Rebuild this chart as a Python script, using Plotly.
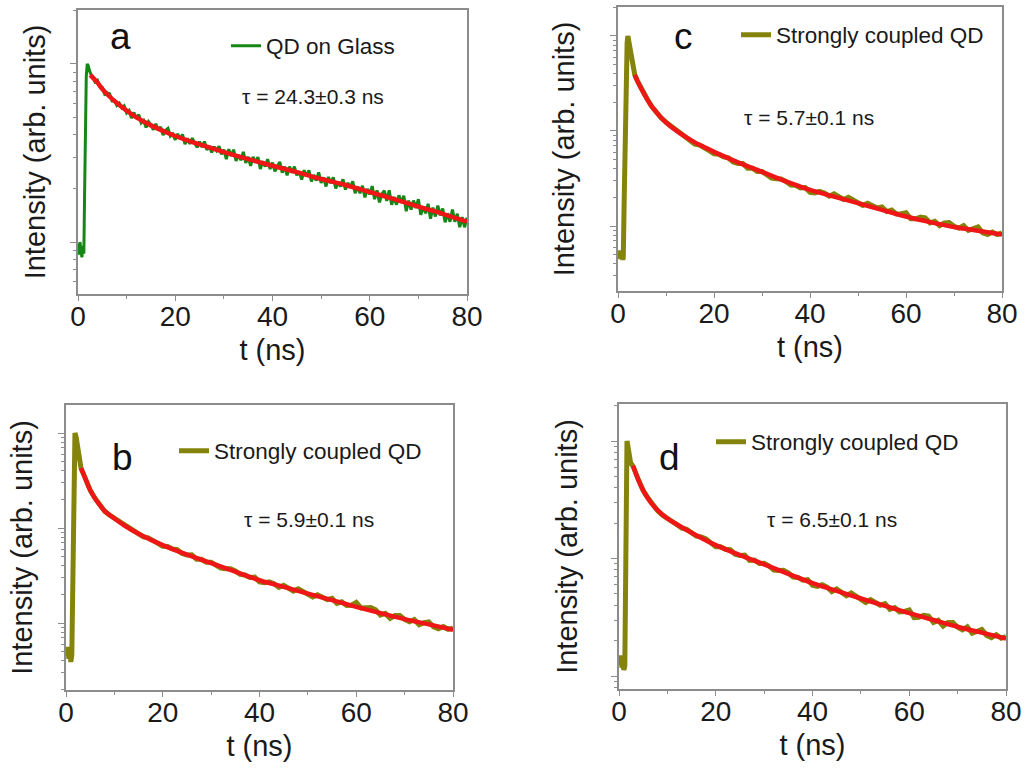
import plotly.graph_objects as go

# ---------------- data ----------------
# panel a : QD on glass  (rise, then decay sampled every 0.5 ns)
t_a = [0, 0.2, 0.4, 0.6, 0.8, 1.0, 1.2, 1.35, 1.5, 1.7, 1.9, 2.1, 2.3, 2.6,
       3.0, 3.5, 4.0, 4.5, 5.0, 5.5, 6.0, 6.5, 7.0, 7.5, 8.0, 8.5, 9.0, 9.5,
       10.0, 10.5, 11.0, 11.5, 12.0, 12.5, 13.0, 13.5, 14.0, 14.5, 15.0, 15.5, 16.0, 16.5,
       17.0, 17.5, 18.0, 18.5, 19.0, 19.5, 20.0, 20.5, 21.0, 21.5, 22.0, 22.5, 23.0, 23.5,
       24.0, 24.5, 25.0, 25.5, 26.0, 26.5, 27.0, 27.5, 28.0, 28.5, 29.0, 29.5, 30.0, 30.5,
       31.0, 31.5, 32.0, 32.5, 33.0, 33.5, 34.0, 34.5, 35.0, 35.5, 36.0, 36.5, 37.0, 37.5,
       38.0, 38.5, 39.0, 39.5, 40.0, 40.5, 41.0, 41.5, 42.0, 42.5, 43.0, 43.5, 44.0, 44.5,
       45.0, 45.5, 46.0, 46.5, 47.0, 47.5, 48.0, 48.5, 49.0, 49.5, 50.0, 50.5, 51.0, 51.5,
       52.0, 52.5, 53.0, 53.5, 54.0, 54.5, 55.0, 55.5, 56.0, 56.5, 57.0, 57.5, 58.0, 58.5,
       59.0, 59.5, 60.0, 60.5, 61.0, 61.5, 62.0, 62.5, 63.0, 63.5, 64.0, 64.5, 65.0, 65.5,
       66.0, 66.5, 67.0, 67.5, 68.0, 68.5, 69.0, 69.5, 70.0, 70.5, 71.0, 71.5, 72.0, 72.5,
       73.0, 73.5, 74.0, 74.5, 75.0, 75.5, 76.0, 76.5, 77.0, 77.5, 78.0, 78.5, 79.0, 79.5, 80.0]
i_a = [0.098, 0.085, 0.100, 0.088, 0.082, 0.095, 0.086, 0.18, 0.45, 0.85, 1.0, 0.98, 0.93, 0.88,
       0.851, 0.793, 0.810, 0.748, 0.738, 0.675, 0.687, 0.681, 0.620, 0.622, 0.584, 0.602, 0.567, 0.582,
       0.531, 0.548, 0.496, 0.534, 0.495, 0.519, 0.467, 0.482, 0.440, 0.474, 0.455, 0.427, 0.461, 0.424,
       0.443, 0.399, 0.423, 0.435, 0.393, 0.404, 0.375, 0.405, 0.378, 0.402, 0.354, 0.382, 0.356, 0.383,
       0.359, 0.340, 0.366, 0.341, 0.367, 0.329, 0.346, 0.318, 0.343, 0.326, 0.345, 0.311, 0.330, 0.292,
       0.332, 0.304, 0.330, 0.285, 0.308, 0.288, 0.321, 0.278, 0.301, 0.268, 0.301, 0.279, 0.300, 0.257,
       0.284, 0.265, 0.292, 0.257, 0.279, 0.249, 0.266, 0.282, 0.245, 0.265, 0.237, 0.265, 0.245, 0.265,
       0.237, 0.249, 0.224, 0.253, 0.234, 0.253, 0.219, 0.238, 0.221, 0.246, 0.215, 0.231, 0.205, 0.232,
       0.214, 0.231, 0.200, 0.217, 0.205, 0.225, 0.197, 0.215, 0.202, 0.219, 0.188, 0.205, 0.188, 0.207,
       0.178, 0.199, 0.185, 0.206, 0.174, 0.195, 0.167, 0.186, 0.194, 0.170, 0.195, 0.162, 0.179, 0.162,
       0.183, 0.166, 0.182, 0.149, 0.171, 0.152, 0.171, 0.155, 0.174, 0.142, 0.158, 0.145, 0.164, 0.135,
       0.156, 0.139, 0.160, 0.141, 0.154, 0.129, 0.145, 0.130, 0.152, 0.130, 0.144, 0.121, 0.138, 0.121, 0.137]
tf_a = [2.5, 3, 4, 5, 6, 8, 10, 12, 15, 20, 25, 30, 35, 40, 45, 50, 55, 60, 65, 70, 75, 80]
f_a = [0.867, 0.841, 0.785, 0.724, 0.676, 0.603, 0.547, 0.501, 0.452, 0.394, 0.353, 0.320,
       0.292, 0.268, 0.247, 0.226, 0.209, 0.191, 0.174, 0.158, 0.144, 0.130]

# panel b : strongly coupled QD
t_b = [0, 0.2, 0.4, 0.6, 0.8, 1.0, 1.2, 1.35, 1.5, 1.65, 1.85, 2.1, 2.5, 2.8, 3.1,
       4, 5, 6, 7, 8, 9, 10, 11, 12, 13, 14, 15, 16, 17, 18, 19, 20,
       21, 22, 23, 24, 25, 26, 27, 28, 29, 30, 31, 32, 33, 34, 35, 36, 37, 38, 39, 40,
       41, 42, 43, 44, 45, 46, 47, 48, 49, 50, 51, 52, 53, 54, 55, 56, 57, 58, 59, 60,
       61, 62, 63, 64, 65, 66, 67, 68, 69, 70, 71, 72, 73, 74, 75, 76, 77, 78, 79, 80]
i_b = [0.0052, 0.0045, 0.0056, 0.0042, 0.0049, 0.0039, 0.0046, 0.02, 0.25, 0.75, 1.0, 0.9, 0.63, 0.5, 0.427,
       0.333, 0.250, 0.206, 0.174, 0.150, 0.137, 0.127, 0.118, 0.107, 0.0986, 0.0944, 0.0873, 0.0806, 0.0787, 0.0746, 0.0689, 0.0642,
       0.0638, 0.0603, 0.0591, 0.0538, 0.0521, 0.0522, 0.0468, 0.0469, 0.0437, 0.0437, 0.0412, 0.0379, 0.0373, 0.0372, 0.0353, 0.0325, 0.0320, 0.0302, 0.0304, 0.0271,
       0.0265, 0.0272, 0.0260, 0.0237, 0.0250, 0.0231, 0.0217, 0.0229, 0.0215, 0.0199, 0.0188, 0.0198, 0.0187, 0.0176, 0.0182, 0.0161, 0.0167, 0.0153, 0.0154, 0.0165,
       0.0144, 0.0147, 0.0146, 0.0138, 0.0121, 0.0126, 0.0112, 0.0120, 0.0120, 0.0109, 0.0103, 0.0109, 0.0096, 0.0101, 0.0103, 0.0091, 0.0087, 0.0092, 0.0086, 0.0088]
tf_b = [3.1, 4, 5, 6, 7, 8, 10, 12, 15, 20, 25, 30, 35, 40, 45, 50, 55, 60, 65, 70, 75, 80]
f_b = [0.427, 0.331, 0.251, 0.204, 0.174, 0.151, 0.126, 0.107, 0.0871, 0.0661, 0.0525, 0.0427,
       0.0347, 0.0282, 0.0240, 0.0204, 0.0174, 0.0148, 0.0127, 0.0110, 0.00968, 0.00851]

# panel c : strongly coupled QD
t_c = [0, 0.2, 0.4, 0.6, 0.8, 1.0, 1.1, 1.3, 1.5, 1.7, 1.9, 2.05, 2.3, 2.6, 3.0, 3.5,
       4, 5, 6, 7, 8, 9, 10, 11, 12, 13, 14, 15, 16, 17, 18, 19, 20,
       21, 22, 23, 24, 25, 26, 27, 28, 29, 30, 31, 32, 33, 34, 35, 36, 37, 38, 39, 40,
       41, 42, 43, 44, 45, 46, 47, 48, 49, 50, 51, 52, 53, 54, 55, 56, 57, 58, 59, 60,
       61, 62, 63, 64, 65, 66, 67, 68, 69, 70, 71, 72, 73, 74, 75, 76, 77, 78, 79, 80]
i_c = [0.0052, 0.0046, 0.0055, 0.0045, 0.0051, 0.0044, 0.0047, 0.02, 0.12, 0.5, 0.85, 1.0, 0.85, 0.62, 0.47, 0.389,
       0.341, 0.268, 0.221, 0.182, 0.157, 0.137, 0.124, 0.114, 0.102, 0.0931, 0.0881, 0.0798, 0.0729, 0.0712, 0.0675, 0.0620, 0.0574,
       0.0568, 0.0534, 0.0522, 0.0472, 0.0455, 0.0454, 0.0405, 0.0405, 0.0374, 0.0374, 0.0350, 0.0320, 0.0314, 0.0313, 0.0294, 0.0270, 0.0268, 0.0252, 0.0254, 0.0226,
       0.0223, 0.0232, 0.0223, 0.0206, 0.0218, 0.0203, 0.0190, 0.0200, 0.0188, 0.0175, 0.0165, 0.0174, 0.0164, 0.0155, 0.0159, 0.0142, 0.0147, 0.0134, 0.0135, 0.0138,
       0.0119, 0.0119, 0.0124, 0.0122, 0.0108, 0.0112, 0.0101, 0.0108, 0.0109, 0.00994, 0.0095, 0.0101, 0.00899, 0.00947, 0.00976, 0.00847, 0.00814, 0.00865, 0.00812, 0.00845]
tf_c = [3.5, 4, 5, 6, 7, 8, 9, 10, 12, 14, 16, 18, 20, 25, 30, 35, 40, 45, 50, 55, 60, 65, 70, 75, 80]
f_c = [0.389, 0.339, 0.269, 0.219, 0.182, 0.158, 0.138, 0.123, 0.102, 0.0871, 0.0759, 0.0676, 0.0603,
       0.0468, 0.0372, 0.0295, 0.0240, 0.0204, 0.0174, 0.0148, 0.0126, 0.0110, 0.00977, 0.00891, 0.00813]

# panel d : strongly coupled QD
t_d = [0, 0.2, 0.4, 0.6, 0.8, 1.0, 1.2, 1.35, 1.5, 1.65, 1.85, 2.1, 2.4, 2.7, 2.9,
       3, 4, 5, 6, 7, 8, 9, 10, 11, 12, 13, 14, 15, 16, 17, 18, 19, 20,
       21, 22, 23, 24, 25, 26, 27, 28, 29, 30, 31, 32, 33, 34, 35, 36, 37, 38, 39, 40,
       41, 42, 43, 44, 45, 46, 47, 48, 49, 50, 51, 52, 53, 54, 55, 56, 57, 58, 59, 60,
       61, 62, 63, 64, 65, 66, 67, 68, 69, 70, 71, 72, 73, 74, 75, 76, 77, 78, 79, 80]
i_d = [0.0140, 0.0125, 0.0150, 0.0118, 0.0128, 0.0113, 0.0122, 0.05, 0.45, 1.0, 0.9, 0.72, 0.65, 0.63, 0.617,
       0.596, 0.470, 0.379, 0.327, 0.286, 0.255, 0.234, 0.221, 0.211, 0.194, 0.181, 0.177, 0.166, 0.155, 0.153, 0.147, 0.136, 0.126,
       0.126, 0.120, 0.119, 0.109, 0.106, 0.107, 0.0964, 0.0972, 0.0909, 0.0913, 0.0865, 0.0799, 0.0790, 0.0793, 0.0754, 0.0697, 0.0691, 0.0655, 0.0662, 0.0592,
       0.0580, 0.0598, 0.0572, 0.0522, 0.0552, 0.0512, 0.0483, 0.0509, 0.0480, 0.0446, 0.0422, 0.0447, 0.0423, 0.0401, 0.0414, 0.0370, 0.0383, 0.0352, 0.0355, 0.0365,
       0.0314, 0.0317, 0.0329, 0.0324, 0.0286, 0.0298, 0.0266, 0.0286, 0.0286, 0.0260, 0.0247, 0.0262, 0.0231, 0.0243, 0.0249, 0.0222, 0.0212, 0.0225, 0.0210, 0.0217]
tf_d = [2.9, 4, 5, 6, 7, 8, 10, 12, 15, 20, 25, 30, 35, 40, 45, 50, 55, 60, 65, 70, 75, 80]
f_d = [0.617, 0.468, 0.380, 0.324, 0.285, 0.257, 0.219, 0.195, 0.166, 0.130, 0.107, 0.0891,
       0.0741, 0.0617, 0.0531, 0.0457, 0.0396, 0.0343, 0.0300, 0.0263, 0.0234, 0.0209]

letters = ["a", "b", "c", "d"]
series_names = ["QD on Glass", "Strongly coupled QD", "Strongly coupled QD", "Strongly coupled QD"]
tau_labels = ["τ = 24.3±0.3 ns", "τ = 5.9±0.1 ns", "τ = 5.7±0.1 ns", "τ = 6.5±0.1 ns"]
x_ticks = [0, 20, 40, 60, 80]
x_minor = [10, 30, 50, 70]

# ---------------- styling / layout ----------------
W, H = 1027, 775
FONT = "Liberation Sans, Arial, sans-serif"
GREEN = "rgb(22,135,22)"
OLIVE = "rgb(132,132,12)"
RED = "rgb(238,22,22)"
AXC = "rgb(140,140,140)"
TXT = "#1a1a1a"

# panel boxes in pixels: (x0, x1, ytop, ybottom), log10 y range, y-title standoff
panels = [
    dict(box=(78, 467, 10, 294), yr=(-1.292, 0.303), col=GREEN, lw=3, t=t_a, i=i_a, tf=tf_a, f=f_a,
         leg=(226, 46), tau=(240, 97), let=(120, 36), ysd=16),
    dict(box=(66, 453, 405, 690), yr=(-2.705, 0.295), col=OLIVE, lw=5, t=t_b, i=i_b, tf=tf_b, f=f_b,
         leg=(174, 451), tau=(242, 519), let=(122, 457), ysd=17),
    dict(box=(618, 1002, 7, 291), yr=(-2.684, 0.305), col=OLIVE, lw=5, t=t_c, i=i_c, tf=tf_c, f=f_c,
         leg=(736, 35), tau=(742, 117), let=(683, 36), ysd=27),
    dict(box=(619, 1006, 404, 689), yr=(-2.11, 0.315), col=OLIVE, lw=5, t=t_d, i=i_d, tf=tf_d, f=f_d,
         leg=(711, 442), tau=(765, 519), let=(669, 457), ysd=25),
]

def px_x(v):
    return v / W

def px_y(v):
    return 1 - v / H

fig = go.Figure()
layout = dict(width=W, height=H, margin=dict(l=0, r=0, t=0, b=0, autoexpand=False),
              paper_bgcolor="white", plot_bgcolor="white",
              font=dict(family=FONT, color=TXT), annotations=[])

for k, p in enumerate(panels):
    n = "" if k == 0 else str(k + 1)
    xa, ya = "x" + n, "y" + n
    legname = "legend" + n
    fig.add_trace(go.Scatter(x=p["t"], y=p["i"], mode="lines", name=series_names[k],
                             line=dict(color=p["col"], width=p["lw"]), xaxis=xa, yaxis=ya,
                             legend=legname, showlegend=True))
    fig.add_trace(go.Scatter(x=p["tf"], y=p["f"], mode="lines", name="fit",
                             line=dict(color=RED, width=4.5, shape="spline"),
                             xaxis=xa, yaxis=ya, showlegend=False))
    x0, x1, yt, yb = p["box"]
    lo, hi = p["yr"]
    decades = [10.0 ** e for e in range(-4, 2)]
    minors = [m * d for d in decades for m in range(2, 10)]
    layout["xaxis" + n] = dict(domain=[px_x(x0), px_x(x1)], anchor=ya, range=[0, 80],
                               automargin=False,
                               tickvals=x_ticks, ticks="outside", ticklen=5, tickwidth=1.3,
                               tickcolor=AXC, showline=True, linecolor=AXC, linewidth=1.5,
                               mirror=True, showgrid=False, zeroline=False,
                               ticklabelstandoff=-8,
                               tickfont=dict(size=28, family=FONT, color=TXT),
                               minor=dict(tickvals=x_minor, ticks="outside", ticklen=3,
                                          tickcolor=AXC, showgrid=False),
                               title=dict(text="t (ns)", font=dict(size=29, family=FONT, color=TXT),
                                          standoff=8))
    layout["yaxis" + n] = dict(domain=[px_y(yb), px_y(yt)], anchor=xa, type="log",
                               automargin=False,
                               range=[lo, hi], tickvals=decades, ticks="outside", ticklen=6,
                               tickwidth=1.3, tickcolor=AXC, showticklabels=False,
                               showline=True, linecolor=AXC, linewidth=1.5, mirror=True,
                               showgrid=False, zeroline=False,
                               minor=dict(tickvals=minors, ticks="outside", ticklen=3,
                                          tickcolor=AXC, showgrid=False),
                               title=dict(text="Intensity (arb. units)",
                                          font=dict(size=29, family=FONT, color=TXT),
                                          standoff=p["ysd"]))
    lx, ly = p["leg"]
    layout[legname] = dict(x=px_x(lx), y=px_y(ly), xanchor="left", yanchor="middle",
                           bgcolor="rgba(0,0,0,0)", borderwidth=0,
                           font=dict(size=22.5, family=FONT, color=TXT))
    tx, ty = p["tau"]
    layout["annotations"].append(dict(x=px_x(tx), y=px_y(ty), xref="paper", yref="paper",
                                      text=tau_labels[k], showarrow=False, xanchor="left",
                                      yanchor="middle", font=dict(size=21, family=FONT, color=TXT)))
    cx, cy = p["let"]
    layout["annotations"].append(dict(x=px_x(cx), y=px_y(cy), xref="paper", yref="paper",
                                      text=letters[k], showarrow=False, xanchor="center",
                                      yanchor="middle", font=dict(size=37, family=FONT, color="#111111")))

fig.update_layout(**layout)
fig.write_html("out.html", config={"displayModeBar": False},
               post_script="document.body.style.margin='0px';")
